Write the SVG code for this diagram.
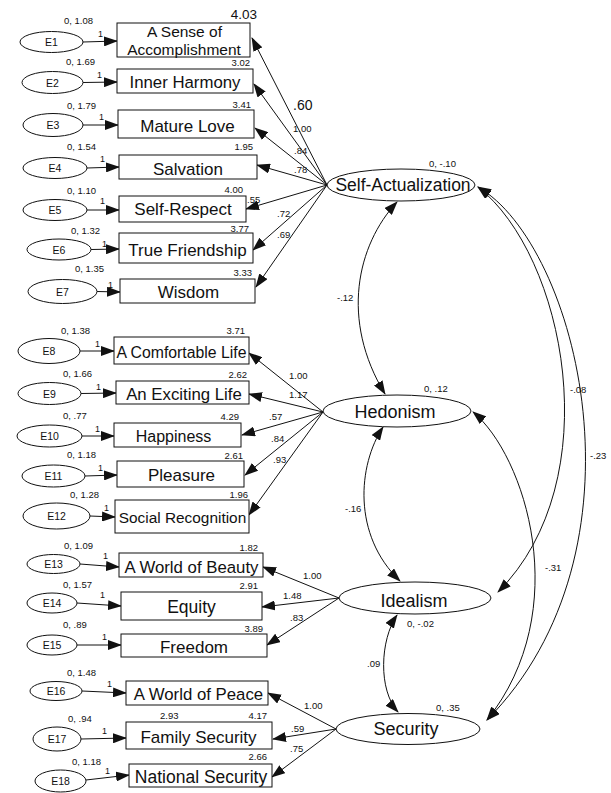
<svg xmlns="http://www.w3.org/2000/svg" width="611" height="793" viewBox="0 0 611 793">
<style>
text{font-family:"Liberation Sans",Arial,sans-serif;fill:#111}
.box{fill:#fff;stroke:#111;stroke-width:1}
.ell{fill:#fff;stroke:#111;stroke-width:1}
.t{text-anchor:middle;font-size:17px}
.lat{text-anchor:middle;font-size:17.5px}
.e{text-anchor:middle;font-size:10.5px}
.s{font-size:9.5px}
.r{font-size:9.5px;text-anchor:end}
.one{font-size:9px}
.ln{fill:none;stroke:#111;stroke-width:1;marker-end:url(#ah)}
.cv{fill:none;stroke:#111;stroke-width:1;marker-start:url(#ah);marker-end:url(#ah)}
</style>
<defs>
<marker id="ah" viewBox="0 0 14 10" refX="13" refY="5" markerWidth="14" markerHeight="10" markerUnits="userSpaceOnUse" orient="auto-start-reverse">
<path d="M0,0 L14,5 L0,10 z" fill="#111"/>
</marker>
</defs>
<rect width="611" height="793" fill="#fff"/>

<g id="connectors">
<!-- error to indicator -->
<line class="ln" x1="83" y1="42" x2="117" y2="41"/>
<line class="ln" x1="83" y1="82.5" x2="117" y2="82"/>
<line class="ln" x1="83" y1="125" x2="118" y2="125"/>
<line class="ln" x1="87" y1="168" x2="119" y2="167"/>
<line class="ln" x1="87" y1="210" x2="119" y2="210"/>
<line class="ln" x1="91" y1="249.5" x2="119" y2="249"/>
<line class="ln" x1="97" y1="291.5" x2="120" y2="292"/>
<line class="ln" x1="80" y1="351" x2="114" y2="351"/>
<line class="ln" x1="81" y1="393.5" x2="116" y2="393"/>
<line class="ln" x1="82" y1="436" x2="114" y2="436"/>
<line class="ln" x1="85" y1="476" x2="117" y2="475"/>
<line class="ln" x1="90" y1="516" x2="115" y2="517"/>
<line class="ln" x1="80" y1="564" x2="119" y2="567"/>
<line class="ln" x1="77" y1="603" x2="121" y2="606"/>
<line class="ln" x1="77" y1="645" x2="121" y2="645"/>
<line class="ln" x1="82" y1="691" x2="126" y2="693"/>
<line class="ln" x1="81" y1="739" x2="126" y2="738"/>
<line class="ln" x1="86" y1="780" x2="129" y2="775"/>
<!-- loadings -->
<line class="ln" x1="327" y1="185" x2="252" y2="38"/>
<line class="ln" x1="327" y1="185" x2="254" y2="84"/>
<line class="ln" x1="327" y1="185" x2="255" y2="128"/>
<line class="ln" x1="327" y1="185" x2="257" y2="165"/>
<line class="ln" x1="327" y1="185" x2="246" y2="209"/>
<line class="ln" x1="327" y1="185" x2="253" y2="250"/>
<line class="ln" x1="327" y1="185" x2="256" y2="287"/>
<line class="ln" x1="323" y1="412" x2="249" y2="353"/>
<line class="ln" x1="323" y1="412" x2="249" y2="394"/>
<line class="ln" x1="323" y1="412" x2="242" y2="435"/>
<line class="ln" x1="323" y1="412" x2="245" y2="475"/>
<line class="ln" x1="323" y1="412" x2="249" y2="515"/>
<line class="ln" x1="339" y1="598" x2="263" y2="567"/>
<line class="ln" x1="339" y1="598" x2="262" y2="607"/>
<line class="ln" x1="339" y1="598" x2="267" y2="645"/>
<line class="ln" x1="336" y1="729" x2="268" y2="693"/>
<line class="ln" x1="336" y1="729" x2="273" y2="739"/>
<line class="ln" x1="336" y1="729" x2="272" y2="777"/>
<!-- covariances -->
<path class="cv" d="M397,202 C357,245 340,320 385,394"/>
<path class="cv" d="M383,427 C358,465 352,535 400,581"/>
<path class="cv" d="M397,615 C380,640 378,690 398,712"/>
<path class="cv" d="M473,412 C525,455 575,610 487,720"/>
<path class="cv" d="M478,187 C565,255 610,480 498,592"/>
<path class="cv" d="M478,187 C578,245 655,550 487,720"/>
</g>

<g id="connector-labels">
<text x="293" y="110" style="font-size:14px">.60</text>
<text class="s" x="293" y="132">1.00</text>
<text class="s" x="294" y="154">.84</text>
<text class="s" x="294" y="173">.78</text>
<text class="s" x="247" y="203">.55</text>
<text class="s" x="277" y="217">.72</text>
<text class="s" x="277" y="238">.69</text>
<text class="s" x="289" y="379">1.00</text>
<text class="s" x="289" y="398">1.17</text>
<text class="s" x="269" y="420">.57</text>
<text class="s" x="271" y="442">.84</text>
<text class="s" x="273" y="463">.93</text>
<text class="s" x="303" y="579">1.00</text>
<text class="s" x="283" y="599">1.48</text>
<text class="s" x="290" y="621">.83</text>
<text class="s" x="304" y="709">1.00</text>
<text class="s" x="291" y="732">.59</text>
<text class="s" x="290" y="752">.75</text>
<text class="s" x="337" y="301">-.12</text>
<text class="s" x="345" y="512">-.16</text>
<text class="s" x="367" y="667">.09</text>
<text class="s" x="570" y="393">-.08</text>
<text class="s" x="590" y="459">-.23</text>
<text class="s" x="545" y="571">-.31</text>
<text class="one" x="98" y="37">1</text>
<text class="one" x="97" y="78">1</text>
<text class="one" x="99" y="120">1</text>
<text class="one" x="100" y="162">1</text>
<text class="one" x="100" y="204">1</text>
<text class="one" x="102" y="247">1</text>
<text class="one" x="108" y="288">1</text>
<text class="one" x="95" y="347">1</text>
<text class="one" x="96" y="390">1</text>
<text class="one" x="95" y="432">1</text>
<text class="one" x="98" y="471">1</text>
<text class="one" x="104" y="511">1</text>
<text class="one" x="103" y="559">1</text>
<text class="one" x="100" y="598">1</text>
<text class="one" x="102" y="640">1</text>
<text class="one" x="107" y="687">1</text>
<text class="one" x="102" y="734">1</text>
<text class="one" x="105" y="774">1</text>
</g>

<!-- latent variables -->
<g id="self-actualization">
<ellipse class="ell" cx="401" cy="185" rx="74" ry="16"/>
<text class="lat" x="403" y="191">Self-Actualization</text>
<text class="s" x="429" y="167">0, -.10</text>
</g>
<g id="hedonism">
<ellipse class="ell" cx="397" cy="411" rx="74" ry="16"/>
<text class="lat" x="395" y="418" style="font-size:18px">Hedonism</text>
<text class="s" x="424" y="392">0, .12</text>
</g>
<g id="idealism">
<ellipse class="ell" cx="415" cy="598" rx="76" ry="16"/>
<text class="lat" x="414" y="607" style="font-size:18px">Idealism</text>
<text class="s" x="407" y="627">0, -.02</text>
</g>
<g id="security">
<ellipse class="ell" cx="408" cy="729" rx="72" ry="15.5"/>
<text class="lat" x="406" y="735" style="font-size:18px">Security</text>
<text class="s" x="436" y="711">0, .35</text>
</g>

<!-- observed variables -->
<g id="accomplishment">
<rect class="box" x="117" y="23" width="133" height="34"/>
<text class="t" x="184.5" y="37" style="font-size:15.5px">A Sense of</text>
<text class="t" x="184" y="54.5" style="font-size:15.5px">Accomplishment</text>
<text x="257" y="19" style="font-size:13.5px;text-anchor:end">4.03</text>
</g>
<g id="inner-harmony">
<rect class="box" x="117" y="69" width="136" height="24"/>
<text class="t" x="185" y="88" style="font-size:16.8px">Inner Harmony</text>
<text class="r" x="250" y="66">3.02</text>
</g>
<g id="mature-love">
<rect class="box" x="118" y="110" width="136" height="28"/>
<text class="t" x="187.5" y="132">Mature Love</text>
<text class="r" x="251" y="108">3.41</text>
</g>
<g id="salvation">
<rect class="box" x="119" y="155" width="138" height="24"/>
<text class="t" x="188" y="175">Salvation</text>
<text class="r" x="253" y="150">1.95</text>
</g>
<g id="self-respect">
<rect class="box" x="119" y="196" width="127" height="26"/>
<text class="t" x="183" y="215">Self-Respect</text>
<text class="r" x="243" y="193">4.00</text>
</g>
<g id="true-friendship">
<rect class="box" x="119" y="233" width="134" height="30"/>
<text class="t" x="187.5" y="256">True Friendship</text>
<text class="r" x="249" y="232">3.77</text>
</g>
<g id="wisdom">
<rect class="box" x="120" y="279" width="135" height="24"/>
<text class="t" x="188.5" y="298">Wisdom</text>
<text class="r" x="252" y="276">3.33</text>
</g>
<g id="comfortable-life">
<rect class="box" x="114" y="337" width="135" height="27"/>
<text class="t" x="181.5" y="358" style="font-size:15.8px">A Comfortable Life</text>
<text class="r" x="245" y="334">3.71</text>
</g>
<g id="exciting-life">
<rect class="box" x="116" y="381" width="133" height="23"/>
<text class="t" x="184" y="400" style="font-size:16.8px">An Exciting Life</text>
<text class="r" x="247" y="378">2.62</text>
</g>
<g id="happiness">
<rect class="box" x="114" y="423" width="127" height="24"/>
<text class="t" x="173.5" y="442" style="font-size:16px">Happiness</text>
<text class="r" x="239" y="420">4.29</text>
</g>
<g id="pleasure">
<rect class="box" x="117" y="461" width="127" height="26"/>
<text class="t" x="181.5" y="481">Pleasure</text>
<text class="r" x="243" y="459">2.61</text>
</g>
<g id="social-recognition">
<rect class="box" x="115" y="500" width="134" height="33"/>
<text class="t" x="182.5" y="523" style="font-size:15.4px">Social Recognition</text>
<text class="r" x="248" y="498">1.96</text>
</g>
<g id="world-of-beauty">
<rect class="box" x="119" y="553" width="144" height="24"/>
<text class="t" x="191.5" y="573" style="font-size:16.8px">A World of Beauty</text>
<text class="r" x="258" y="551">1.82</text>
</g>
<g id="equity">
<rect class="box" x="121" y="592" width="141" height="28"/>
<text class="t" x="191.5" y="613" style="font-size:17.5px">Equity</text>
<text class="r" x="258" y="589">2.91</text>
</g>
<g id="freedom">
<rect class="box" x="121" y="634" width="146" height="23"/>
<text class="t" x="194" y="653">Freedom</text>
<text class="r" x="263" y="632">3.89</text>
</g>
<g id="world-of-peace">
<rect class="box" x="126" y="681" width="142" height="24"/>
<text class="t" x="198.5" y="700" style="font-size:16.8px">A World of Peace</text>
</g>
<g id="family-security">
<rect class="box" x="126" y="722" width="146" height="27"/>
<text class="t" x="198.5" y="743">Family Security</text>
<text class="s" x="160" y="719">2.93</text>
<text class="r" x="267" y="719">4.17</text>
</g>
<g id="national-security">
<rect class="box" x="129" y="764" width="143" height="23"/>
<text class="t" x="201" y="783" style="font-size:17.5px">National Security</text>
<text class="r" x="267" y="760">2.66</text>
</g>

<!-- error terms -->
<g id="E1"><ellipse class="ell" cx="51.5" cy="42" rx="31.5" ry="10.5"/><text class="e" x="51.5" y="46">E1</text><text class="s" x="64" y="24">0, 1.08</text></g>
<g id="E2"><ellipse class="ell" cx="52.5" cy="82.5" rx="30.5" ry="11"/><text class="e" x="52.5" y="86.5">E2</text><text class="s" x="66" y="65">0, 1.69</text></g>
<g id="E3"><ellipse class="ell" cx="53" cy="125" rx="30" ry="11.5"/><text class="e" x="53" y="129">E3</text><text class="s" x="67" y="109">0, 1.79</text></g>
<g id="E4"><ellipse class="ell" cx="55" cy="168" rx="32" ry="10.5"/><text class="e" x="55" y="172">E4</text><text class="s" x="67" y="150">0, 1.54</text></g>
<g id="E5"><ellipse class="ell" cx="55" cy="210" rx="32" ry="10.5"/><text class="e" x="55" y="214">E5</text><text class="s" x="67" y="194">0, 1.10</text></g>
<g id="E6"><ellipse class="ell" cx="59" cy="249.5" rx="32" ry="10.5"/><text class="e" x="59" y="253.5">E6</text><text class="s" x="71" y="234">0, 1.32</text></g>
<g id="E7"><ellipse class="ell" cx="62.5" cy="291.5" rx="34.5" ry="12"/><text class="e" x="62.5" y="295.5">E7</text><text class="s" x="75" y="272">0, 1.35</text></g>
<g id="E8"><ellipse class="ell" cx="49" cy="351" rx="31" ry="12.5"/><text class="e" x="49" y="355">E8</text><text class="s" x="61" y="334">0, 1.38</text></g>
<g id="E9"><ellipse class="ell" cx="49.5" cy="393.5" rx="31.5" ry="11"/><text class="e" x="49.5" y="397.5">E9</text><text class="s" x="63" y="377">0, 1.66</text></g>
<g id="E10"><ellipse class="ell" cx="49.5" cy="436" rx="32.5" ry="11"/><text class="e" x="49.5" y="440">E10</text><text class="s" x="63" y="419">0, .77</text></g>
<g id="E11"><ellipse class="ell" cx="53.5" cy="476" rx="31.5" ry="11"/><text class="e" x="53.5" y="480">E11</text><text class="s" x="67" y="458">0, 1.18</text></g>
<g id="E12"><ellipse class="ell" cx="56.5" cy="516" rx="33.5" ry="13"/><text class="e" x="56.5" y="520">E12</text><text class="s" x="70" y="498">0, 1.28</text></g>
<g id="E13"><ellipse class="ell" cx="53.5" cy="564" rx="26.5" ry="9.5"/><text class="e" x="53.5" y="568">E13</text><text class="s" x="64" y="549">0, 1.09</text></g>
<g id="E14"><ellipse class="ell" cx="52" cy="603" rx="25" ry="10"/><text class="e" x="52" y="607">E14</text><text class="s" x="63" y="588">0, 1.57</text></g>
<g id="E15"><ellipse class="ell" cx="52" cy="645" rx="25" ry="10"/><text class="e" x="52" y="649">E15</text><text class="s" x="63" y="628">0, .89</text></g>
<g id="E16"><ellipse class="ell" cx="56" cy="691" rx="26" ry="9.5"/><text class="e" x="56" y="695">E16</text><text class="s" x="67" y="676">0, 1.48</text></g>
<g id="E17"><ellipse class="ell" cx="57" cy="739" rx="24" ry="12"/><text class="e" x="57" y="743">E17</text><text class="s" x="68" y="722">0, .94</text></g>
<g id="E18"><ellipse class="ell" cx="60.5" cy="781" rx="25.5" ry="11"/><text class="e" x="60.5" y="785">E18</text><text class="s" x="72" y="765">0, 1.18</text></g>
</svg>
